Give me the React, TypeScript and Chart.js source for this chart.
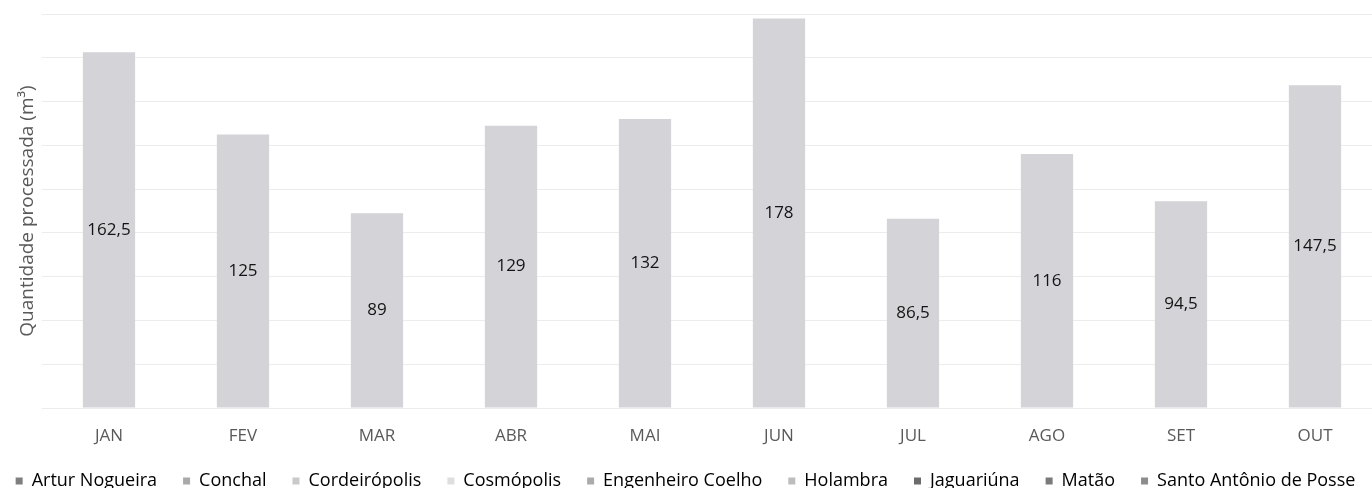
import React, { useEffect, useRef } from "react";
import { Chart, ChartConfiguration, registerables } from "chart.js";

Chart.register(...registerables);

const months = ["JAN", "FEV", "MAR", "ABR", "MAI", "JUN", "JUL", "AGO", "SET", "OUT"];
const totals = [162.5, 125, 89, 129, 132, 178, 86.5, 116, 94.5, 147.5];
const cities = [
  "Artur Nogueira",
  "Conchal",
  "Cordeirópolis",
  "Cosmópolis",
  "Engenheiro Coelho",
  "Holambra",
  "Jaguariúna",
  "Matão",
  "Santo Antônio de Posse",
];
const cityShades = ["#7f7f7f", "#a9a9a9", "#c9c9c9", "#dedede", "#ababab", "#bdbdbd", "#6b6b6b", "#7a7a7a", "#8c8c8c"];
const yTicks = { min: 0, max: 180, step: 20 };

const FONT = "'Open Sans', 'Noto Sans', sans-serif";
const TEXT = "#595959";

// writes each value in the middle of its bar, with a decimal comma
const barValues = {
  id: "barValues",
  afterDatasetsDraw(chart: Chart) {
    const { ctx } = chart;
    const meta = chart.getDatasetMeta(0);
    ctx.save();
    ctx.font = `17px ${FONT}`;
    ctx.fillStyle = "#141414";
    ctx.textAlign = "center";
    ctx.textBaseline = "middle";
    meta.data.forEach((bar: any, i) => {
      const label = String(totals[i]).replace(".", ",");
      ctx.fillText(label, bar.x, (bar.y + bar.base) / 2);
    });
    ctx.restore();
  },
};

const App: React.FC = () => {
  const canvasRef = useRef<HTMLCanvasElement>(null);
  const chartRef = useRef<Chart | null>(null);

  useEffect(() => {
    if (!canvasRef.current) return;
    if (chartRef.current) chartRef.current.destroy();

    const config = {
      type: "bar",
      data: {
        labels: months,
        datasets: [
          {
            label: "Total",
            data: totals,
            backgroundColor: "#d3d3d8",
            borderWidth: 0,
            barPercentage: 0.39,
            categoryPercentage: 1,
          },
        ],
      },
      options: {
        responsive: true,
        maintainAspectRatio: false,
        animation: false,
        layout: { padding: { left: -42, right: 7, top: 14, bottom: -12 } },
        plugins: {
          tooltip: { enabled: false },
          legend: {
            position: "bottom",
            labels: {
              font: { family: FONT, size: 18 },
              color: TEXT,
              boxWidth: 7,
              boxHeight: 7,
              padding: 26,
              generateLabels: () =>
                cities.map((text, i) => ({
                  text,
                  fillStyle: cityShades[i],
                  strokeStyle: cityShades[i],
                  lineWidth: 0,
                  hidden: false,
                  datasetIndex: 0,
                })),
            },
          },
        },
        scales: {
          x: {
            grid: { display: false, drawTicks: false },
            border: { display: false },
            ticks: { font: { family: FONT, size: 17, lineHeight: 0.6 }, color: TEXT, padding: 23 },
            afterFit: (axis: any) => {
              axis.height = 38;
            },
          },
          y: {
            min: yTicks.min,
            max: yTicks.max,
            ticks: { stepSize: yTicks.step, display: false },
            grid: { color: "#ececec", drawTicks: false },
            border: { display: false },
            title: {
              display: true,
              text: "Quantidade processada (m³)",
              font: { family: FONT, size: 19 },
              color: TEXT,
              padding: { top: 58, bottom: 0 },
            },
            afterFit: (axis: any) => {
              axis.width = 84;
            },
          },
          yRight: {
            position: "right",
            min: yTicks.min,
            max: yTicks.max,
            ticks: { display: false },
            grid: { display: false },
            border: { display: false },
            afterFit: (axis: any) => {
              axis.width = 31;
            },
          },
        },
      },
      plugins: [barValues],
    };

    try {
      chartRef.current = new Chart(canvasRef.current, config as unknown as ChartConfiguration);
    } catch (error) {
      console.error("Error creating chart:", error);
    }

    return () => {
      if (chartRef.current) {
        chartRef.current.destroy();
        chartRef.current = null;
      }
    };
  }, []);

  return (
    <div style={{ position: "fixed", left: 0, top: 0, width: "100vw", height: "100vh", overflow: "hidden", background: "#fff" }}>
      <div style={{ position: "relative", width: 1420, height: 488 }}>
        <canvas ref={canvasRef} />
      </div>
    </div>
  );
};

export default App;
